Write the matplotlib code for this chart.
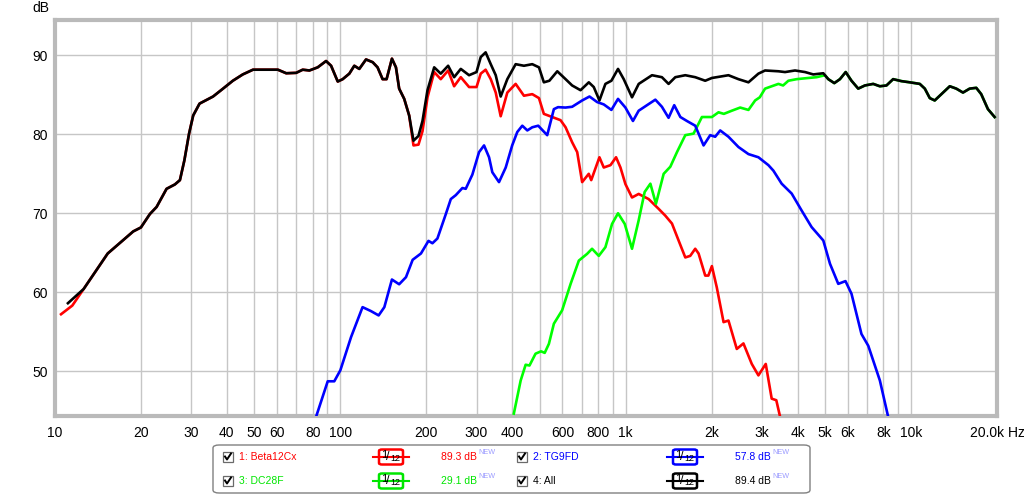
import numpy as np
import matplotlib
matplotlib.use('Agg')
import matplotlib.pyplot as plt
from matplotlib.patches import FancyBboxPatch
from matplotlib.lines import Line2D

plt.rcParams['font.family'] = ['Liberation Sans', 'DejaVu Sans']

# ---- data (Hz, dB SPL)
# woofer and summed response coincide below ~175 Hz
low_f = [12.6, 15.3, 18.8, 20, 21.5, 22.7, 24.6, 26.3, 27.4, 28.4, 29.5, 30.5, 32.1, 35.8, 38.8, 42.0,
         45.5, 49.4, 60.4, 64.6, 70, 73.8, 77.9, 83.3, 89.1, 92.8, 97.9, 101.9, 107.5, 111.9, 116.5,
         123, 129.8, 135, 140.6, 145.2, 151.6, 156.6, 160.7, 167.4, 174.2]
low_db = [60.4, 64.9, 67.7, 68.2, 69.9, 70.8, 73.1, 73.65, 74.2, 76.7, 80.1, 82.4, 83.9, 84.8, 85.8, 86.8,
          87.6, 88.2, 88.2, 87.75, 87.8, 88.2, 88.1, 88.5, 89.3, 88.7, 86.7, 87.0, 87.7, 88.7, 88.3,
          89.5, 89.15, 88.5, 87.0, 87.0, 89.6, 88.5, 85.8, 84.5, 82.4]

beta_head_f = [10.5, 11.5]
beta_head_db = [57.2, 58.3]
beta_f = [180.4, 187.8, 194.0, 202, 213.2, 224.8, 238.6, 250.4, 264.2, 282.5, 300, 310.4, 322.9, 336.5,
          350.3, 364.6, 384.6, 411.4, 439.8, 470.4, 496.5, 516.5, 552.6, 591, 615.5, 649, 676, 703.5,
          742, 757, 808.8, 837.5, 884.3, 925, 958.3, 997.5, 1052, 1110, 1203, 1305, 1376, 1452, 1532,
          1617, 1683, 1752, 1800, 1899, 1948, 2004, 2085, 2202, 2291, 2450, 2585, 2765, 2917, 3095,
          3247, 3370, 3475]
beta_db = [78.6, 78.7, 80.4, 84.7, 87.9, 87.0, 88.1, 86.1, 87.25, 86.0, 86.0, 87.7, 88.2, 87.0,
           85.3, 82.3, 85.3, 86.4, 84.9, 85.1, 84.6, 82.6, 82.2, 81.8, 80.9, 79.0, 77.75, 73.95,
           75.0, 74.2, 77.1, 75.8, 76.1, 77.1, 75.8, 73.7, 72.0, 72.45, 71.8, 70.55, 69.7, 68.7, 66.55,
           64.4, 64.6, 65.5, 64.9, 62.1, 62.1, 63.3, 60.6, 56.2, 56.4, 52.8, 53.5, 50.9, 49.45, 50.9,
           46.5, 46.3, 44.2]

tg_f = [82.2, 90.3, 95.2, 100, 109, 119.6, 128, 136.2, 142.6, 151.6, 160.7, 169.8, 179.2, 191.6, 203.6,
        210.2, 218.8, 234.2, 243.8, 253.8, 267.7, 275, 290.1, 306.2, 318.8, 331.9, 340.8, 359.7, 379.7,
        400, 416.8, 434, 452, 470.4, 493.6, 530.7, 560, 579, 615, 649, 703.5, 746.5, 793.6, 837.5,
        890.8, 939.7, 997.5, 1060, 1110, 1187, 1270, 1339, 1413, 1479, 1554, 1638, 1752, 1874, 1977,
        2058, 2143, 2291, 2483, 2692, 2917, 3162, 3292, 3519, 3815, 4134, 4481, 4924, 5197, 5556,
        5889, 6182, 6699, 7079, 7773, 8310]
tg_db = [44.2, 48.7, 48.7, 50.1, 54.3, 58.1, 57.6, 57.05, 58.1, 61.6, 61.0, 61.9, 64.1, 64.9, 66.5,
         66.2, 66.8, 69.9, 71.8, 72.3, 73.2, 73.1, 74.9, 77.75, 78.6, 77.1, 75.2, 73.95, 75.8,
         78.6, 80.3, 81.1, 80.5, 80.9, 81.1, 79.9, 83.2, 83.45, 83.4, 83.5, 84.3, 84.8, 84.1, 83.8,
         83.1, 84.5, 83.4, 81.7, 83.0, 83.7, 84.4, 83.5, 82.1, 83.7, 82.2, 81.7, 81.1, 78.6, 79.9,
         79.7, 80.5, 79.7, 78.4, 77.5, 77.1, 76.1, 75.4, 73.75, 72.5, 70.35, 68.25, 66.55, 63.6, 61.05,
         61.4, 59.8, 54.7, 53.2, 48.8, 44.2]

dc_f = [405.4, 428.4, 445.9, 460, 483, 505, 520, 538, 560, 598.6, 641, 685, 732, 762, 804.6, 848.8,
        895.5, 939.7, 992, 1052, 1110, 1165, 1220, 1276, 1358, 1433, 1512, 1617, 1729, 1849, 2004,
        2114, 2207, 2353, 2518, 2692, 2841, 2949, 3078, 3247, 3428, 3560, 3715, 3971, 4363, 4665, 4990]
dc_db = [44.6, 48.8, 50.8, 50.7, 52.2, 52.5, 52.3, 53.45, 56.0, 57.7, 61.05, 64.0, 64.85, 65.5, 64.6, 65.7,
         68.65, 70.0, 68.65, 65.5, 69.1, 72.7, 73.75, 71.2, 75.0, 75.9, 77.75, 79.9, 80.1, 82.2, 82.2,
         82.8, 82.6, 83.0, 83.4, 83.1, 84.3, 84.7, 85.8, 86.1, 86.4, 86.2, 86.8, 87.0, 87.15, 87.25, 87.5]

# tweeter and summed response coincide above ~5 kHz
tail_f = [5127, 5381, 5632, 5899, 6182, 6527, 6887, 7366, 7773, 8197, 8650, 9250, 9897, 10725, 11170,
          11627, 12100, 12770, 13660, 14400, 15200, 16040, 16920, 17610, 18590, 19620]
tail_db = [87.0, 86.5, 87.0, 87.9, 86.8, 85.8, 86.2, 86.4, 86.1, 86.2, 87.0, 86.75, 86.6, 86.4, 85.8,
           84.6, 84.3, 85.1, 86.1, 85.8, 85.3, 85.8, 85.9, 85.1, 83.2, 82.2]

all_head_f = [11.1]
all_head_db = [58.6]
all_f = [180.4, 187.8, 194.0, 202, 213.2, 224.8, 238.6, 250.4, 264.2, 282.5, 300, 310.4, 322.9, 336.5,
         350.3, 364.6, 384.6, 411.4, 439.8, 470.4, 496.5, 516.5, 540, 575.6, 615.5, 649, 694.4, 742.4,
         772.7, 808.8, 848.8, 890.8, 939.7, 984, 1052, 1110.5, 1236, 1339, 1413, 1492, 1617, 1752,
         1899, 2004, 2291, 2483, 2692, 2917, 3078, 3428, 3616, 3920, 4250, 4542, 4924]
all_db = [79.2, 79.8, 81.7, 85.6, 88.5, 87.7, 88.7, 87.25, 88.3, 87.5, 87.9, 89.8, 90.4, 88.9,
          87.5, 84.8, 87.0, 88.9, 88.7, 88.9, 88.5, 86.6, 86.8, 88.0, 87.0, 86.2, 85.6, 86.6,
          86.0, 84.3, 86.4, 86.8, 88.3, 87.0, 84.7, 86.4, 87.5, 87.25, 86.4, 87.25, 87.5, 87.25,
          86.8, 87.15, 87.5, 87.0, 86.6, 87.7, 88.1, 88.0, 87.9, 88.1, 87.9, 87.6, 87.75]

grid_f = [10, 20, 30, 40, 50, 60, 70, 80, 90, 100, 200, 300, 400, 500, 600, 700, 800, 900,
          1000, 2000, 3000, 4000, 5000, 6000, 7000, 8000, 9000, 10000, 20000]
grid_lab = ['10', '20', '30', '40', '50', '60', '', '80', '', '100', '200', '300', '400', '', '600', '',
            '800', '', '1k', '2k', '3k', '4k', '5k', '6k', '', '8k', '', '10k', '20.0k Hz']
db_ticks = [50, 60, 70, 80, 90]

legend_names = ['1: Beta12Cx', '2: TG9FD', '3: DC28F', '4: All']
legend_levels = ['89.3 dB', '57.8 dB', '29.1 dB', '89.4 dB']
legend_colors = ['#ff0000', '#0000ff', '#00e600', '#000000']

W, H = 1024, 495
fig = plt.figure(figsize=(W / 100, H / 100), dpi=100)
ax = fig.add_axes([55 / W, 1 - 416 / H, 942 / W, 396 / H])

ax.plot(beta_head_f + low_f + beta_f, beta_head_db + low_db + beta_db, color='#ff0000', lw=1.9, zorder=3)
ax.plot(dc_f + tail_f, dc_db + tail_db, color='#00ff00', lw=1.9, zorder=4)
ax.plot(tg_f, tg_db, color='#0000ff', lw=1.9, zorder=5)
ax.plot(all_head_f + low_f + all_f + tail_f, all_head_db + low_db + all_db + tail_db, color='#000000', lw=1.9, zorder=6)

ax.set_xscale('log')
ax.set_xlim(10, 20000)
ax.set_ylim(44.3, 94.5)
ax.set_xticks(grid_f)
ax.set_xticklabels(grid_lab)
ax.xaxis.set_minor_locator(matplotlib.ticker.NullLocator())
ax.set_yticks(db_ticks)
ax.set_yticklabels([str(v) for v in db_ticks])
ax.tick_params(axis='both', length=0, labelsize=10, colors='#000000')
ax.tick_params(axis='x', pad=7)
ax.tick_params(axis='y', pad=5)
ax.grid(True, color='#c6c6c6', lw=1.0)
ax.set_axisbelow(True)
for s in ax.spines.values():
	s.set_color('#bababa'); s.set_linewidth(3)

fig.text(41 / W, 1 - 8 / H, 'dB', fontsize=10, ha='center', va='center')

# ---- legend panel under the plot
def fp(x, y):
	return x / W, 1 - y / H

box = FancyBboxPatch(fp(213, 493), 597 / W, 48 / H, boxstyle='round,pad=0,rounding_size=0.006',
                     transform=fig.transFigure, facecolor='white', edgecolor='#808080', lw=1)
fig.add_artist(box)

cols = [(228, 239, 391, 441), (522, 533, 685, 735)]
rows = [457, 481]
for i, name in enumerate(legend_names):
	cb_x, tx, ic_x, vx = cols[i % 2]
	y = rows[i // 2]
	c = legend_colors[i]
	# checkbox
	fig.add_artist(FancyBboxPatch(fp(cb_x - 5, y + 5), 10 / W, 10 / H, boxstyle='square,pad=0',
	                              transform=fig.transFigure, facecolor='white', edgecolor='#6a6a6a', lw=0.9))
	fig.add_artist(Line2D([(cb_x - 3) / W, (cb_x - 1) / W, (cb_x + 3) / W],
	                      [1 - (y - 0.5) / H, 1 - (y + 2.5) / H, 1 - (y - 3.5) / H],
	                      transform=fig.transFigure, color='black', lw=1.4))
	fig.text(tx / W, 1 - y / H, name, color=c, fontsize=7.5, ha='left', va='center')
	# smoothing icon
	fig.add_artist(Line2D([(ic_x - 18) / W, (ic_x + 18) / W], [1 - y / H, 1 - y / H],
	                      transform=fig.transFigure, color=c, lw=1.5))
	fig.add_artist(FancyBboxPatch(fp(ic_x - 12, y + 7.5), 24 / W, 15 / H,
	                              boxstyle='round,pad=0,rounding_size=0.003',
	                              transform=fig.transFigure, facecolor='white', edgecolor=c, lw=1.8))
	fig.text((ic_x - 6.5) / W, 1 - (y - 1.5) / H, '1', fontsize=8, ha='center', va='center', color='black')
	fig.text((ic_x - 3) / W, 1 - (y - 0.5) / H, '/', fontsize=9, ha='center', va='center', color='black')
	fig.text((ic_x + 4.5) / W, 1 - (y + 1.5) / H, '12', fontsize=6.5, ha='center', va='center', color='black')
	fig.text(vx / W, 1 - y / H, legend_levels[i], color=c, fontsize=7.5, ha='left', va='center')
	fig.text((vx + 37) / W, 1 - (y - 4) / H, 'NEW', color='#9a9aff', fontsize=5.2, ha='left', va='center')

fig.savefig('out.png', dpi=100, facecolor='white')
